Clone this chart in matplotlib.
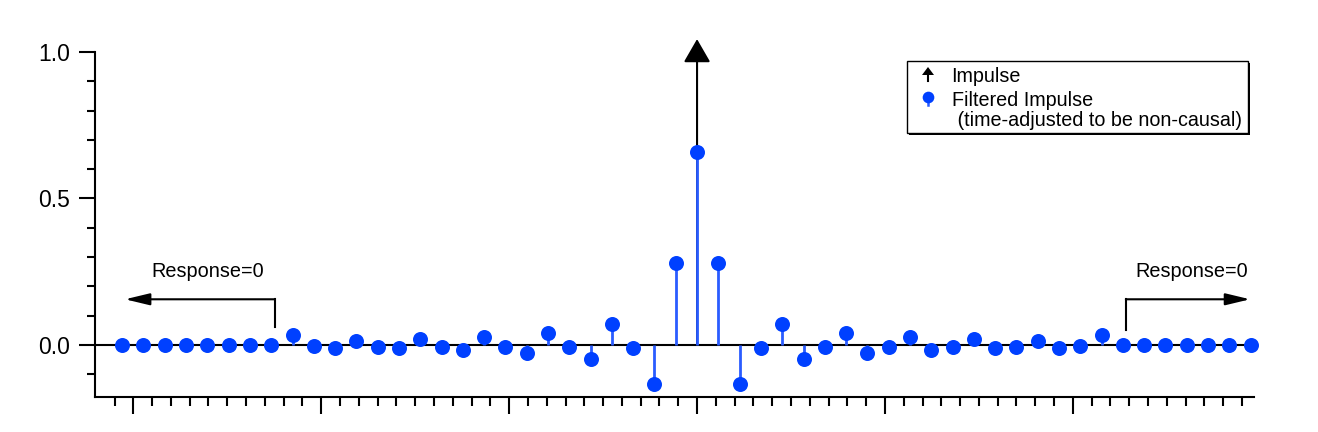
import matplotlib
matplotlib.use('Agg')
import matplotlib.pyplot as plt
import numpy as np
from matplotlib.patches import Rectangle, Polygon
from matplotlib.lines import Line2D
from matplotlib.transforms import Affine2D
from matplotlib.ticker import FixedLocator, NullFormatter

plt.rcParams['font.family'] = ['Liberation Sans', 'DejaVu Sans']

# ---------------- data ----------------
sample_index = list(range(-27, 27))
filtered_impulse = [
    0, 0, 0, 0, 0, 0, 0, 0,                                  # n = -27 .. -20
    0.034, -0.003, -0.009, 0.013, -0.007, -0.010, 0.020, -0.007, -0.016,
    0.028, -0.007, -0.028, 0.041, -0.007, -0.048, 0.072, -0.011, -0.133, 0.281,
    0.658,                                                   # n = 0
    0.281, -0.133, -0.011, 0.072, -0.048, -0.007, 0.041, -0.028, -0.007,
    0.028, -0.016, -0.007, 0.020, -0.010, -0.007, 0.013, -0.009, -0.003, 0.034,
    0, 0, 0, 0, 0, 0, 0,                                     # n = 20 .. 26
]
impulse_index = [0]
impulse_value = [1.0]
y_tick_labels = ['0.0', '0.5', '1.0']
annotation_text = 'Response=0'
legend_labels = ['Impulse', 'Filtered Impulse', ' (time-adjusted to be non-causal)']

# sample spacing expressed in axis tick units
sample_spacing = 1.1331
x = np.array(sample_index) * sample_spacing
y = np.array(filtered_impulse)
xi = np.array(impulse_index) * sample_spacing

W, H = 1318, 432
fig = plt.figure(figsize=(W / 100, H / 100), dpi=100)
ax = fig.add_axes([95 / W, 35 / H, (1254 - 95) / W, (397 - 52) / H])
ax.set_xlim(-32.04, 29.64)
ax.set_ylim(-0.1775, 1.0)

marker_color = '#0040ff'
stem_color = '#2a5cff'

# zero line
ax.axhline(0, color='black', lw=1.5, zorder=2)

# impulse arrow
for xv, yv in zip(xi, impulse_value):
    ax.annotate('', xy=(xv, yv + 0.044), xytext=(xv, 0),
                arrowprops=dict(arrowstyle='-|>,head_length=1.44,head_width=0.83',
                                mutation_scale=10, color='black', lw=1.5,
                                shrinkA=0, shrinkB=0),
                annotation_clip=False, zorder=3)

# filtered impulse stems
ax.vlines(x, 0, y, colors=stem_color, lw=2.0, zorder=4)
ax.plot(x, y, 'o', color=marker_color, ms=10.8, mec='none', zorder=5, clip_on=False)

# spines & ticks
for s in ['top', 'right']:
    ax.spines[s].set_visible(False)
for s in ['left', 'bottom']:
    ax.spines[s].set_linewidth(1.5)

ax.xaxis.set_major_locator(FixedLocator(np.arange(-30, 21, 10)))
ax.xaxis.set_minor_locator(FixedLocator(np.arange(-31, 30, 1)))
ax.xaxis.set_major_formatter(NullFormatter())
ax.yaxis.set_major_locator(FixedLocator([0.0, 0.5, 1.0]))
ax.yaxis.set_minor_locator(FixedLocator(np.round(np.arange(-0.1, 1.0, 0.1), 2)))
ax.set_yticklabels(y_tick_labels)
ax.tick_params(axis='x', which='major', length=12.2, width=1.5, direction='out')
ax.tick_params(axis='x', which='minor', length=6.5, width=1.5, direction='out')
ax.tick_params(axis='y', which='major', length=11.5, width=1.5, direction='out',
               labelsize=16.5, pad=6.5)
ax.tick_params(axis='y', which='minor', length=5.8, width=1.5, direction='out')

# "Response=0" annotations
ax.plot([-22.46, -22.46], [0.061, 0.156], color='black', lw=1.5, zorder=3)
ax.annotate('', xy=(-30.44, 0.156), xytext=(-22.46, 0.156),
            arrowprops=dict(arrowstyle='-|>,head_length=1.5,head_width=0.36',
                            mutation_scale=10, color='black', lw=1.5,
                            shrinkA=0, shrinkB=0))
ax.text(-29.02, 0.233, annotation_text, fontsize=14.3, ha='left', va='baseline')

ax.plot([22.82, 22.82], [0.051, 0.156], color='black', lw=1.5, zorder=3)
ax.annotate('', xy=(29.43, 0.156), xytext=(22.82, 0.156),
            arrowprops=dict(arrowstyle='-|>,head_length=1.5,head_width=0.36',
                            mutation_scale=10, color='black', lw=1.5,
                            shrinkA=0, shrinkB=0), annotation_clip=False)
ax.text(23.31, 0.233, annotation_text, fontsize=14.3, ha='left', va='baseline')

# ---------------- legend (figure pixel coordinates) ----------------
pix = Affine2D().scale(1 / W, -1 / H).translate(0, 1) + fig.transFigure
fig.patches.append(Rectangle((909, 63), 340.5, 71.5, transform=pix,
                             facecolor='black', edgecolor='none', zorder=10))
fig.patches.append(Rectangle((907, 61), 340.5, 71.5, transform=pix,
                             facecolor='white', edgecolor='black', lw=1, zorder=11))
# impulse icon
fig.add_artist(Line2D([928, 928], [74, 81], transform=pix, color='black', lw=1.5, zorder=12))
fig.patches.append(Polygon([(922, 75), (934, 75), (928, 67)], closed=True,
                           transform=pix, facecolor='black', edgecolor='none', zorder=12))
# filtered icon
fig.add_artist(Line2D([928, 928], [97, 105], transform=pix, color=stem_color, lw=1.8, zorder=12))
fig.add_artist(Line2D([928], [96.5], transform=pix, marker='o', ms=8.4,
                      color=marker_color, mec='none', zorder=13))
fig.text(951.5, 82.3, legend_labels[0], transform=pix, fontsize=14.2, va='baseline', zorder=13)
fig.text(951.5, 105.7, legend_labels[1], transform=pix, fontsize=14.2, va='baseline', zorder=13)
fig.text(951.5, 125.5, legend_labels[2], transform=pix, fontsize=14.2, va='baseline', zorder=13)

fig.savefig('out.png', dpi=100)
